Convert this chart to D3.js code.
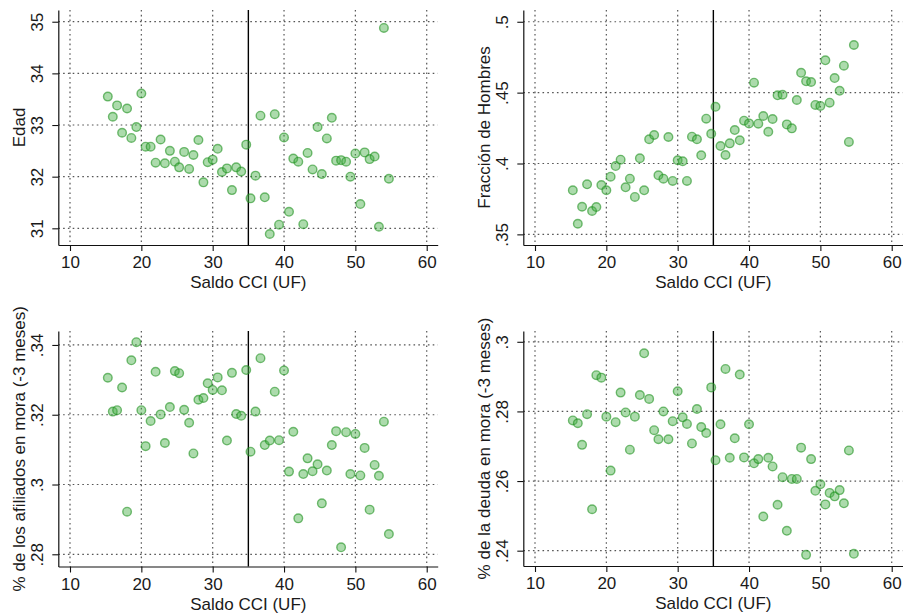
<!DOCTYPE html>
<html>
<head>
<meta charset="utf-8">
<script src="https://cdnjs.cloudflare.com/ajax/libs/d3/7.8.5/d3.min.js"></script>
<style>
  html, body { margin: 0; padding: 0; background: #fff; }
  svg { display: block; font-family: "Liberation Sans", Arial, sans-serif; }
</style>
</head>
<body>
<svg id="chart" width="903" height="615"></svg>
<script>
// ---- Data ----
const saldo = [15.3, 16.0, 16.6, 17.3, 18.0, 18.6, 19.3, 20.0, 20.6, 21.3,
               22.0, 22.7, 23.3, 24.0, 24.7, 25.3, 26.0, 26.7, 27.3, 28.0,
               28.7, 29.3, 30.0, 30.7, 31.3, 32.0, 32.7, 33.3, 34.0, 34.7,
               35.3, 36.0, 36.7, 37.3, 38.0, 38.7, 39.3, 40.0, 40.7, 41.3,
               42.0, 42.7, 43.3, 44.0, 44.7, 45.3, 46.0, 46.7, 47.3, 48.0,
               48.7, 49.3, 50.0, 50.7, 51.3, 52.0, 52.7, 53.3, 54.0, 54.7];

const edad = [33.55, 33.16, 33.38, 32.85, 33.32, 32.75, 32.96, 33.61, 32.58, 32.58,
              32.27, 32.72, 32.26, 32.50, 32.29, 32.18, 32.48, 32.15, 32.42, 32.71,
              31.89, 32.28, 32.33, 32.54, 32.09, 32.16, 31.74, 32.18, 32.10, 32.62,
              31.58, 32.02, 33.18, 31.60, 30.89, 33.21, 31.07, 32.76, 31.32, 32.35,
              32.29, 31.08, 32.46, 32.14, 32.96, 32.05, 32.74, 33.14, 32.31, 32.32,
              32.29, 32.00, 32.45, 31.47, 32.47, 32.34, 32.39, 31.03, 34.88, 31.96];

const hombres = [0.3811, 0.3575, 0.3695, 0.3853, 0.3665, 0.3693, 0.3848, 0.3811, 0.3907, 0.3982,
                 0.4027, 0.3832, 0.3893, 0.3764, 0.4037, 0.3811, 0.4171, 0.4201, 0.3917, 0.3893,
                 0.4187, 0.3877, 0.4023, 0.4016, 0.3877, 0.4189, 0.4171, 0.4058, 0.4316, 0.4210,
                 0.4400, 0.4123, 0.4060, 0.4142, 0.4236, 0.4164, 0.4302, 0.4283, 0.4570, 0.4281,
                 0.4335, 0.4224, 0.4314, 0.4481, 0.4485, 0.4276, 0.4248, 0.4448, 0.4640, 0.4580,
                 0.4575, 0.4413, 0.4406, 0.4728, 0.4429, 0.4603, 0.4513, 0.4690, 0.4152, 0.4836];

const afiliados = [0.3306, 0.3209, 0.3213, 0.3278, 0.2922, 0.3356, 0.3408, 0.3213, 0.3110, 0.3182,
                   0.3323, 0.3201, 0.3119, 0.3222, 0.3325, 0.3319, 0.3214, 0.3177, 0.3089, 0.3243,
                   0.3248, 0.3290, 0.3271, 0.3307, 0.3270, 0.3126, 0.3320, 0.3202, 0.3197, 0.3328,
                   0.3094, 0.3209, 0.3362, 0.3113, 0.3126, 0.3266, 0.3127, 0.3327, 0.3037, 0.3151,
                   0.2903, 0.3030, 0.3075, 0.3038, 0.3058, 0.2946, 0.3040, 0.3113, 0.3153, 0.2820,
                   0.3150, 0.3030, 0.3145, 0.3026, 0.3105, 0.2928, 0.3056, 0.3025, 0.3180, 0.2858];

const deuda = [0.2774, 0.2766, 0.2704, 0.2792, 0.2519, 0.2904, 0.2897, 0.2785, 0.2630, 0.2769,
               0.2854, 0.2797, 0.2690, 0.2785, 0.2847, 0.2967, 0.2836, 0.2746, 0.2720, 0.2800,
               0.2720, 0.2772, 0.2858, 0.2783, 0.2764, 0.2708, 0.2807, 0.2755, 0.2738, 0.2869,
               0.2660, 0.2763, 0.2922, 0.2667, 0.2723, 0.2906, 0.2668, 0.2763, 0.2651, 0.2663,
               0.2498, 0.2667, 0.2642, 0.2532, 0.2611, 0.2457, 0.2606, 0.2606, 0.2696, 0.2388,
               0.2663, 0.2572, 0.2591, 0.2533, 0.2566, 0.2556, 0.2574, 0.2536, 0.2688, 0.2391];

const xTicks = [10, 20, 30, 40, 50, 60];
const edadTicks = [31, 32, 33, 34, 35];
const hombresTicks = [0.35, 0.40, 0.45, 0.50];
const afiliadosTicks = [0.28, 0.30, 0.32, 0.34];
const deudaTicks = [0.24, 0.26, 0.28, 0.30];
const cutoff = 35;
const xTitle = "Saldo CCI (UF)";

// ---- Layout ----
const svg = d3.select("#chart");
const fmtFrac = v => {
  if (Math.abs(v - Math.round(v)) < 1e-9) return String(Math.round(v));
  let s = (+v.toFixed(4)).toString();
  return s.replace(/^0\./, ".");
};

const panels = [
  { left: 58.3, right: 437.7, top: 10, bottom: 245, xd: [8.36, 61.54],
    yd: [30.677, 35.227], y: edad, ticks: edadTicks, title: "Edad" },
  { left: 523.3, right: 902.7, top: 10, bottom: 245, xd: [8.36, 61.54],
    yd: [0.3425, 0.5083], y: hombres, ticks: hombresTicks, title: "Fracción de Hombres" },
  { left: 58.3, right: 437.7, top: 331, bottom: 566.5, xd: [8.36, 61.54],
    yd: [0.2765, 0.3440], y: afiliados, ticks: afiliadosTicks, title: "% de los afiliados en mora (-3 meses)" },
  { left: 523.3, right: 902.7, top: 331, bottom: 566, xd: [8.36, 61.54],
    yd: [0.2356, 0.3031], y: deuda, ticks: deudaTicks, title: "% de la deuda en mora (-3 meses)" }
];

const textColor = "#1a1a1a";
const fontSize = 17;

panels.forEach(p => {
  const x = d3.scaleLinear().domain(p.xd).range([p.left, p.right]);
  const y = d3.scaleLinear().domain(p.yd).range([p.bottom, p.top]);
  const g = svg.append("g");

  // grid
  const grid = g.append("g").attr("stroke", "#555").attr("stroke-width", 1.2)
    .attr("stroke-dasharray", "1.6,3.2").attr("fill", "none");
  grid.selectAll("line.v").data(xTicks).join("line").attr("class", "v")
    .attr("x1", d => x(d)).attr("x2", d => x(d))
    .attr("y1", p.top).attr("y2", p.bottom);
  grid.selectAll("line.h").data(p.ticks).join("line").attr("class", "h")
    .attr("y1", d => y(d)).attr("y2", d => y(d))
    .attr("x1", p.left).attr("x2", p.right);

  // x axis
  const xAxis = d3.axisBottom(x).tickValues(xTicks).tickSize(6).tickSizeOuter(0).tickPadding(5)
    .tickFormat(d3.format("d"));
  const gx = g.append("g").attr("transform", `translate(0,${p.bottom})`).call(xAxis);
  gx.select(".domain").attr("stroke", "#111").attr("stroke-width", 1.2);
  gx.selectAll(".tick line").attr("stroke", "#111").attr("stroke-width", 1.1);
  gx.selectAll(".tick text").attr("font-size", fontSize).attr("fill", textColor)
    .attr("font-family", "Liberation Sans, Arial, sans-serif");

  // y axis
  const yAxis = d3.axisLeft(y).tickValues(p.ticks).tickSize(6).tickSizeOuter(0)
    .tickFormat(fmtFrac);
  const gy = g.append("g").attr("transform", `translate(${p.left},0)`).call(yAxis);
  gy.select(".domain").attr("stroke", "#111").attr("stroke-width", 1.2);
  gy.selectAll(".tick line").attr("stroke", "#111").attr("stroke-width", 1.1);
  gy.selectAll(".tick text")
    .attr("x", null).attr("dy", null)
    .attr("transform", "translate(-15,0) rotate(-90)")
    .attr("text-anchor", "middle")
    .attr("font-size", fontSize).attr("fill", textColor)
    .attr("font-family", "Liberation Sans, Arial, sans-serif");

  // axis titles
  g.append("text")
    .attr("x", (x(10) + x(60)) / 2).attr("y", p.bottom + 43)
    .attr("text-anchor", "middle").attr("font-size", fontSize).attr("fill", textColor)
    .text(xTitle);
  g.append("text")
    .attr("transform", `translate(${p.left - 33.5},${(p.top + p.bottom) / 2}) rotate(-90)`)
    .attr("text-anchor", "middle").attr("font-size", fontSize).attr("fill", textColor)
    .text(p.title);

  // cutoff line
  g.append("line")
    .attr("x1", x(cutoff)).attr("x2", x(cutoff))
    .attr("y1", p.top).attr("y2", p.bottom)
    .attr("stroke", "#000").attr("stroke-width", 1.4);

  // points
  g.append("g").selectAll("circle").data(saldo.map((s, i) => [s, p.y[i]])).join("circle")
    .attr("cx", d => x(d[0])).attr("cy", d => y(d[1])).attr("r", 4.3)
    .attr("fill", "rgba(70,175,70,0.45)")
    .attr("stroke", "rgba(30,145,30,0.6)")
    .attr("stroke-width", 1.4);
});
</script>
</body>
</html>
